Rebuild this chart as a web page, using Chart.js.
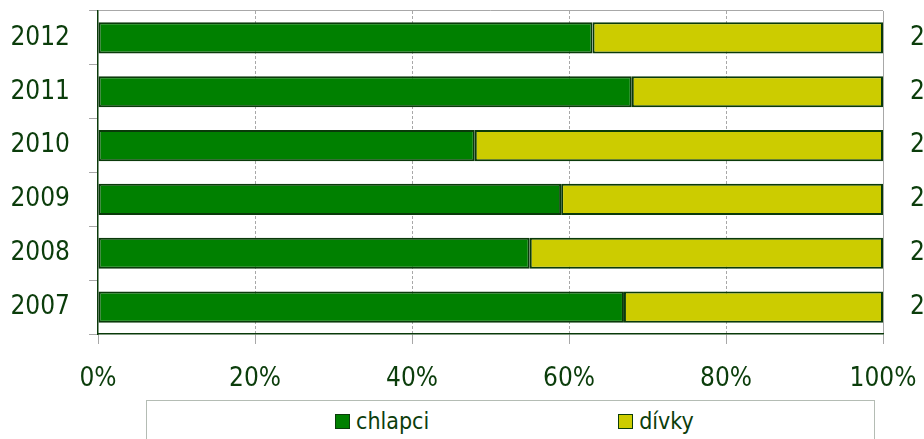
<!DOCTYPE html>
<html>
<head>
<meta charset="utf-8">
<script src="https://cdn.jsdelivr.net/npm/chart.js@4"></script>
<style>
  html, body { margin: 0; padding: 0; background: #fff; overflow: hidden; width: 924px; height: 439px; }
  #wrap { position: relative; width: 1000px; height: 439px; }
  #c { position: absolute; left: 0; top: 0; }
  #legend { position: absolute; left: 146px; top: 400px; width: 729px; height: 60px;
            border: 1px solid #b4bcb4; box-sizing: border-box; background: #fff;
            font-family: 'DejaVu Sans Condensed', 'DejaVu Sans', sans-serif; font-size: 23px; color: #0b3d0b; }
  #legend .items { position: absolute; left: 188px; top: 7px; display: flex; gap: 189px; }
  #legend .item { display: flex; align-items: center; }
  #legend .sw { width: 13px; height: 13px; border: 1px solid #0b3d0b; margin-right: 6px; }
</style>
</head>
<body>
<div id="wrap">
  <canvas id="c" width="1000" height="439"></canvas>
  <div id="legend"><div class="items"></div></div>
</div>
<script>
// Data (top to bottom as shown)
const years = ['2012', '2011', '2010', '2009', '2008', '2007'];
const chlapci = [63, 68, 48, 59, 55, 67];
const divky = [37, 32, 52, 41, 45, 33];
const seriesNames = ['chlapci', 'dívky'];
const xTicks = [0, 20, 40, 60, 80, 100];

const TEXT = '#0b3d0b';
const FONT = "'DejaVu Sans Condensed', 'DejaVu Sans', sans-serif";
const BORDER = '#0a3a0a';
const colors = ['#008000', '#cccc00'];

// layout geometry (pixels)
const PLOT_LEFT = 98, PLOT_RIGHT = 883, PLOT_TOP = 11, PLOT_BOTTOM = 334, CANVAS_W = 1000, CANVAS_H = 439;

const chart = new Chart(document.getElementById('c'), {
  type: 'bar',
  data: {
    labels: years,
    datasets: [
      { label: seriesNames[0], data: chlapci, backgroundColor: colors[0], borderColor: BORDER, borderWidth: 2, borderSkipped: false, yAxisID: 'y' },
      { label: seriesNames[1], data: divky, backgroundColor: colors[1], borderColor: BORDER, borderWidth: 2, borderSkipped: false, yAxisID: 'y' }
    ]
  },
  options: {
    indexAxis: 'y',
    responsive: false,
    animation: false,
    devicePixelRatio: 1,
    layout: { padding: { left: 0, top: PLOT_TOP, right: 0, bottom: 0 } },
    datasets: { bar: { categoryPercentage: 1, barPercentage: 0.58 } },
    plugins: { legend: { display: false }, tooltip: { enabled: false } },
    scales: {
      x: {
        type: 'linear', stacked: true, min: 0, max: 100,
        afterBuildTicks: (s) => { s.ticks = xTicks.map(v => ({ value: v })); },
        afterFit: (s) => { s.height = CANVAS_H - PLOT_BOTTOM - PLOT_TOP * 0; s.paddingLeft = 0; s.paddingRight = 0; s.paddingTop = 0; s.paddingBottom = 0; },
        ticks: { color: TEXT, font: { family: FONT, size: 26 }, padding: 20, maxRotation: 0,
                 callback: (v) => v + '%' },
        grid: {
          color: (ctx) => (ctx.index === 0 ? 'rgba(0,0,0,0)' : '#a8a8a8'),
          lineWidth: 1, tickLength: 10, tickColor: '#a8a8a8', drawTicks: true
        },
        border: { display: true, color: BORDER, width: 1.5,
                  dash: (ctx) => (ctx.index > 0 && ctx.index < xTicks.length - 1 ? [3, 2] : []) }
      },
      y: {
        type: 'category', stacked: true, position: 'left', offset: true,
        afterFit: (s) => { s.width = PLOT_LEFT; s.paddingTop = 0; s.paddingBottom = 0; s.paddingLeft = 0; s.paddingRight = 0; },
        ticks: { color: TEXT, font: { family: FONT, size: 26 }, padding: 19 },
        grid: { offset: true, color: (ctx) => (ctx.index === 0 ? '#a8a8a8' : 'rgba(0,0,0,0)'),
                tickLength: 9, tickColor: '#a8a8a8' },
        border: { display: true, color: BORDER, width: 1.5 }
      },
      y2: {
        type: 'category', position: 'right', offset: true, labels: years,
        afterFit: (s) => { s.width = CANVAS_W - PLOT_RIGHT; s.paddingTop = 0; s.paddingBottom = 0; s.paddingLeft = 0; s.paddingRight = 0; },
        ticks: { color: TEXT, font: { family: FONT, size: 26 }, padding: 27 },
        grid: { display: false, drawTicks: false },
        border: { display: false }
      }
    }
  }
});

// HTML legend built from the chart's datasets
const items = document.querySelector('#legend .items');
chart.data.datasets.forEach(ds => {
  const it = document.createElement('div'); it.className = 'item';
  const sw = document.createElement('span'); sw.className = 'sw'; sw.style.background = ds.backgroundColor;
  const tx = document.createElement('span'); tx.textContent = ds.label;
  it.appendChild(sw); it.appendChild(tx); items.appendChild(it);
});
</script>
</body>
</html>
